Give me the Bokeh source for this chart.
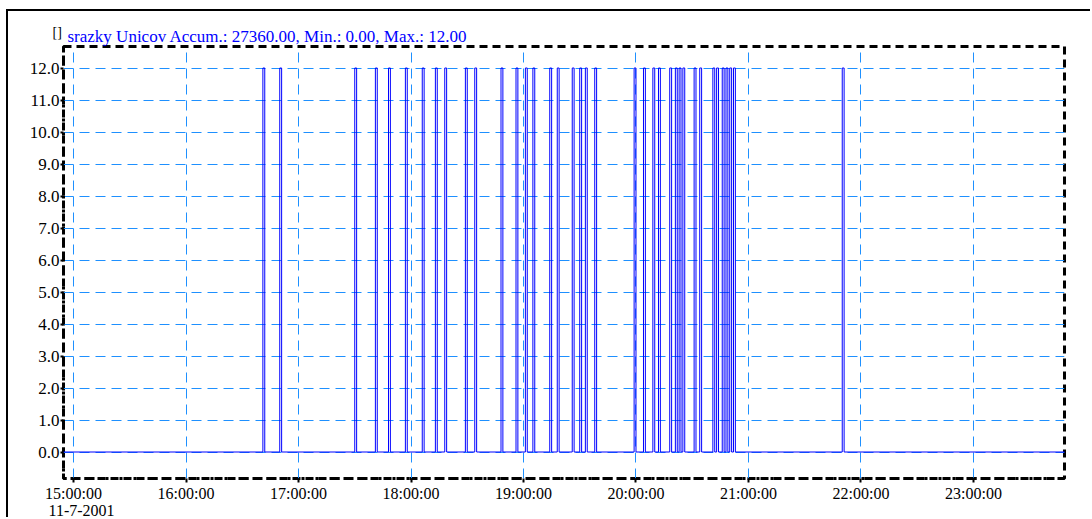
from bokeh.plotting import figure
from bokeh.models import Range1d, Label, FixedTicker, Title
from bokeh.embed import file_html
from bokeh.resources import INLINE

# Rain gauge "srazky Unicov", 11-7-2001: each tip is a one-minute pulse of 12.0
record_start = "14:54"
record_end = "23:49"
pulse_starts = [
    "16:41", "16:50", "17:30", "17:41", "17:48", "17:57", "18:06", "18:13",
    "18:18", "18:29", "18:34", "18:48", "18:56", "19:01", "19:05", "19:14",
    "19:18", "19:26", "19:30", "19:33", "19:38", "19:59", "20:04", "20:09",
    "20:12", "20:18", "20:21", "20:23", "20:25", "20:31", "20:34", "20:41",
    "20:43", "20:46", "20:48", "20:50", "20:52", "21:50",
]
pulse_minutes = 1
pulse_value = 12.0
base_value = 0.0

x_tick_hours = [15, 16, 17, 18, 19, 20, 21, 22, 23]
x_tick_labels = ["15:00:00", "16:00:00", "17:00:00", "18:00:00", "19:00:00",
                 "20:00:00", "21:00:00", "22:00:00", "23:00:00"]
y_ticks = [0, 1, 2, 3, 4, 5, 6, 7, 8, 9, 10, 11, 12]
y_tick_labels = ["0.0", "1.0", "2.0", "3.0", "4.0", "5.0", "6.0", "7.0",
                 "8.0", "9.0", "10.0", "11.0", "12.0"]
date_label = "11-7-2001"
unit_label = "[]"
series_name = "srazky Unicov"
stats_text = "Accum.: 27360.00, Min.: 0.00, Max.: 12.00"


def hours(hhmm):
    h, m = hhmm.split(":")
    return int(h) + int(m) / 60.0


# step trace of the gauge signal
xs = [hours(record_start)]
ys = [base_value]
for s in pulse_starts:
    t0 = hours(s)
    t1 = t0 + pulse_minutes / 60.0
    xs += [t0, t0, t1, t1]
    ys += [base_value, pulse_value, pulse_value, base_value]
xs.append(hours(record_end))
ys.append(base_value)

FONT = "Liberation Serif"
GRID = "#1e90ff"
BLUE = "#0000ff"

p = figure(
    width=1084, height=508,
    x_range=Range1d(14.911, 23.809),
    y_range=Range1d(-0.828125, 12.671875),
    output_backend="svg", toolbar_location=None, tools="",
    min_border_left=55, min_border_right=28,
    min_border_top=35, min_border_bottom=41,
    background_fill_color="white", border_fill_color="white",
)
p.margin = (9, 0, 0, 6)
p.styles = {"border-top": "2px solid black", "border-left": "2px solid black"}
p.title.visible = False

p.line(xs, ys, line_color=BLUE, line_width=1)

# frame: thick dashed outline
p.outline_line_color = "black"
p.outline_line_width = 3
p.outline_line_dash = "8 5"

for ax in (p.xaxis[0], p.yaxis[0]):
    ax.axis_line_color = "black"
    ax.axis_line_width = 3
    ax.axis_line_dash = "3 4"
    ax.major_tick_line_color = "black"
    ax.major_tick_line_width = 2
    ax.major_tick_in = 0
    ax.minor_tick_line_color = None
    ax.major_label_text_font = FONT
    ax.major_label_text_color = "black"

p.xaxis.ticker = FixedTicker(ticks=x_tick_hours)
p.xaxis.major_label_overrides = dict(zip(x_tick_hours, x_tick_labels))
p.xaxis.major_label_text_font_size = "16px"
p.xaxis.major_tick_out = 4
p.xaxis.major_label_standoff = 2

p.yaxis.ticker = FixedTicker(ticks=y_ticks)
p.yaxis.major_label_overrides = dict(zip(y_ticks, y_tick_labels))
p.yaxis.major_label_text_font_size = "17px"
p.yaxis.major_tick_out = 3
p.yaxis.major_label_standoff = 1

p.xgrid.ticker = FixedTicker(ticks=x_tick_hours)
p.ygrid.ticker = FixedTicker(ticks=y_ticks)
for g in (p.xgrid[0], p.ygrid[0]):
    g.grid_line_color = GRID
    g.grid_line_width = 1
    g.grid_line_dash = "10 6"

# header line above the frame
p.add_layout(Title(text=series_name + " " + stats_text, align="left", offset=4,
                   standoff=1, text_font=FONT, text_font_size="17px",
                   text_font_style="normal", text_color=BLUE), "above")

# date under the first time label
p.add_layout(Title(text=date_label, align="left", offset=-15, standoff=0,
                   vertical_align="top",
                   text_font=FONT, text_font_size="16px",
                   text_font_style="normal", text_color="black"), "below")

# unit marker at the top-left corner
p.add_layout(Label(x=35, y=446, x_units="screen", y_units="screen", text=unit_label,
                   text_font=FONT, text_font_size="14px", text_color="black",
                   text_baseline="alphabetic"), "left")

open("out.html", "w").write(file_html(p, INLINE))
